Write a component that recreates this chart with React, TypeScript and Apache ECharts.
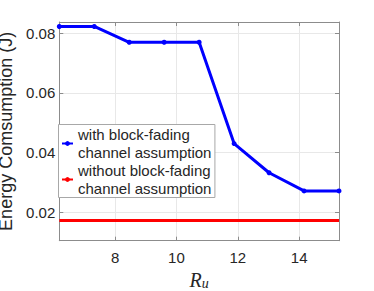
import React, { useEffect, useRef } from "react";
import * as echarts from "echarts";

const xValues = [6.18, 7.32, 8.46, 9.6, 10.74, 11.88, 13.02, 14.16, 15.3];
const withBlockFading = [0.0823, 0.0823, 0.077, 0.077, 0.077, 0.043, 0.0332, 0.0271, 0.0271];
const withoutBlockFading = [0.0172, 0.0172, 0.0172, 0.0172, 0.0172, 0.0172, 0.0172, 0.0172, 0.0172];
const legendNames = ["with block-fading\nchannel assumption", "without block-fading\nchannel assumption"];
const yTitle = "Energy Comsumption (J)";

const FONT = "Liberation Sans, Arial, Helvetica, sans-serif";
const TXT = "#262626";

export default function App() {
  const ref = useRef<HTMLDivElement>(null);
  useEffect(() => {
    if (!ref.current) return;
    const chart = echarts.init(ref.current, null, { renderer: "svg" });
    const left = 59.3, top = 22, right = 339, bottom = 240.7;
    const hideEnds = (min: number, max: number, fmt: (v: number) => string) => (v: number) =>
      Math.abs(v - min) < 1e-9 || Math.abs(v - max) < 1e-9 ? "" : fmt(v);
    chart.setOption({
      animation: false,
      backgroundColor: "#ffffff",
      grid: { left, top, right: 374 - right, bottom: 291 - bottom, show: false, containLabel: false, outerBoundsMode: "none" },
      legend: {
        show: true,
        orient: "vertical",
        left: 58.5,
        top: 124.5,
        padding: [1.7, 3.5, 0.7, 2.5],
        itemGap: 1.4,
        itemWidth: 11,
        itemHeight: 6,
        backgroundColor: "#ffffff",
        borderColor: "#a8a8a8",
        borderWidth: 1,
        selectedMode: false,
        z: 50,
        data: legendNames,
        textStyle: { color: TXT, fontSize: 15, fontFamily: FONT, lineHeight: 17.3 },
      },
      xAxis: [
        {
          type: "value", min: 6.18, max: 15.3, splitNumber: 5,
          axisLine: { show: true, onZero: false, lineStyle: { color: "#8c8c8c", width: 1 } },
          axisTick: { show: true, inside: true, length: 4, lineStyle: { color: "#8c8c8c" } },
          axisLabel: { color: TXT, fontSize: 15, fontFamily: FONT, margin: 9, formatter: hideEnds(6.18, 15.3, (v) => String(v)) },
          splitLine: { show: true, lineStyle: { color: "#e8e8e8", width: 1 } },
          name: "{r|R}{u|u}",
          nameLocation: "middle",
          nameGap: 24,
          nameTextStyle: {
            rich: {
              r: { fontFamily: "Liberation Serif, Times New Roman, serif", fontStyle: "italic", fontSize: 20, color: TXT },
              u: { fontFamily: "Liberation Serif, Times New Roman, serif", fontStyle: "italic", fontSize: 14, color: TXT, padding: [8, 0, 0, 0] },
            },
          },
        },
        {
          type: "value", min: 6.18, max: 15.3, splitNumber: 5, position: "top",
          axisLine: { show: true, onZero: false, lineStyle: { color: "#8c8c8c", width: 1 } },
          axisTick: { show: true, inside: true, length: 4, lineStyle: { color: "#8c8c8c" } },
          axisLabel: { show: false },
          splitLine: { show: false },
        },
      ],
      yAxis: [
        {
          type: "value", min: 0.0104, max: 0.0838, splitNumber: 4,
          axisLine: { show: true, onZero: false, lineStyle: { color: "#8c8c8c", width: 1 } },
          axisTick: { show: true, inside: true, length: 4, lineStyle: { color: "#8c8c8c" } },
          axisLabel: { color: TXT, fontSize: 15, fontFamily: FONT, margin: 4, formatter: hideEnds(0.0104, 0.0838, (v) => v.toFixed(2)) },
          splitLine: { show: true, lineStyle: { color: "#e8e8e8", width: 1 } },
          name: yTitle,
          nameLocation: "middle",
          nameGap: 32,
          nameTextStyle: { color: TXT, fontSize: 18, fontFamily: FONT },
        },
        {
          type: "value", min: 0.0104, max: 0.0838, splitNumber: 4, position: "right",
          axisLine: { show: true, onZero: false, lineStyle: { color: "#8c8c8c", width: 1 } },
          axisTick: { show: true, inside: true, length: 4, lineStyle: { color: "#8c8c8c" } },
          axisLabel: { show: false },
          splitLine: { show: false },
        },
      ],
      series: [
        {
          name: legendNames[0], type: "line",
          data: xValues.map((x, i) => [x, withBlockFading[i]]),
          lineStyle: { color: "#0000ff", width: 3 },
          itemStyle: { color: "#0000ff" },
          symbol: "circle", symbolSize: 5, showSymbol: true,
          z: 3,
        },
        {
          name: legendNames[1], type: "line",
          data: xValues.map((x, i) => [x, withoutBlockFading[i]]),
          lineStyle: { color: "#ff0000", width: 3 },
          itemStyle: { color: "#ff0000" },
          symbol: "none",
          z: 2,
        },
      ],
    });
    return () => chart.dispose();
  }, []);
  return <div ref={ref} style={{ position: "fixed", left: 0, top: 0, width: 374, height: 291 }} />;
}
